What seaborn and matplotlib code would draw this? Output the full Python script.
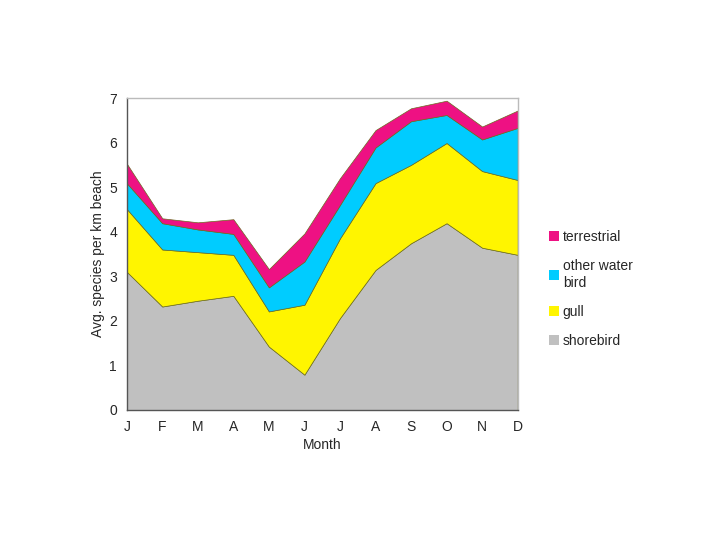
import numpy as np
import matplotlib
matplotlib.use("Agg")
import matplotlib.pyplot as plt
import seaborn as sns
from matplotlib.patches import Patch

# Data
months = ["J", "F", "M", "A", "M", "J", "J", "A", "S", "O", "N", "D"]
shorebird = [3.10, 2.32, 2.45, 2.56, 1.42, 0.79, 2.06, 3.14, 3.74, 4.19, 3.64, 3.48]
gull = [1.41, 1.28, 1.09, 0.92, 0.79, 1.57, 1.79, 1.95, 1.76, 1.80, 1.72, 1.68]
other_water_bird = [0.58, 0.59, 0.51, 0.47, 0.54, 0.97, 0.75, 0.80, 0.98, 0.63, 0.71, 1.17]
terrestrial = [0.44, 0.11, 0.16, 0.33, 0.41, 0.63, 0.60, 0.39, 0.29, 0.32, 0.29, 0.39]

labels = ["shorebird", "gull", "other water\nbird", "terrestrial"]
colors = ["#C0C0C0", "#FFF500", "#00CCFF", "#EE1183"]

sns.set_style("white")
plt.rcParams["font.family"] = ["Liberation Sans", "DejaVu Sans"]

fig = plt.figure(figsize=(7.2, 5.4), dpi=100)
ax = fig.add_axes([0.176, 0.241, 0.543, 0.5775])

x = np.arange(len(months))
ax.stackplot(x, shorebird, gull, other_water_bird, terrestrial,
             colors=colors, edgecolor="#6b6b20", linewidth=0.5)

ax.set_xlim(0, len(months) - 1)
ax.set_ylim(0, 7)
ax.set_xticks(x)
ax.set_xticklabels(months)
ax.set_yticks(range(8))
ax.tick_params(axis="both", direction="out", length=4, width=1, color="#555555",
               labelsize=10, pad=3)
ax.set_xlabel("Month", fontsize=10, labelpad=3)
ax.set_ylabel("Avg. species per km beach", fontsize=10, labelpad=3)

for side in ["left", "bottom"]:
    ax.spines[side].set_color("#555555")
    ax.spines[side].set_linewidth(1)
for side in ["top", "right"]:
    ax.spines[side].set_color("#bbbbbb")
    ax.spines[side].set_linewidth(1)

handles = [Patch(facecolor=c, edgecolor="none") for c in colors]
leg = fig.legend(handles[::-1], labels[::-1], loc="upper left",
                 bbox_to_anchor=(0.745, 0.597), frameon=False, fontsize=10,
                 handlelength=0.7, handleheight=0.7, handletextpad=0.3,
                 labelspacing=1.1)

fig.savefig("out.png", dpi=100)
